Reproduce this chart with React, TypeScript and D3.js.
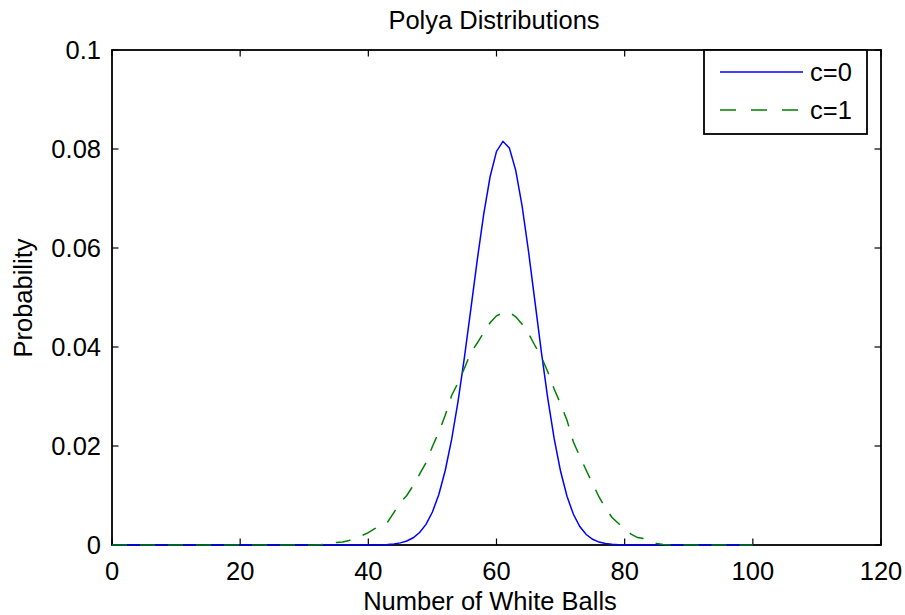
import React from "react";
import * as d3 from "d3";

// Number of white balls = index (0..100)
const seriesNames = ["c=0", "c=1"];

const c0Values = [
  0, 0, 0, 0, 0, 0, 0, 0, 0, 0,
  0, 0, 0, 0, 0, 0, 0, 0, 0, 0,
  0, 0, 0, 0, 0, 0, 0, 0, 0, 0,
  0, 0, 0, 0, 0, 0, 0, 0, 0, 0,
  0.00001, 0.00002, 0.00005, 0.00011, 0.00022, 0.00043, 0.00081, 0.00146, 0.00252, 0.00417,
  0.00666, 0.01021, 0.01505, 0.02132, 0.02902, 0.03797, 0.04772, 0.05762, 0.06681, 0.07439,
  0.07951, 0.08155, 0.08023, 0.07569, 0.06844, 0.05929, 0.04918, 0.03903, 0.02963, 0.02149,
  0.01489, 0.00984, 0.0062, 0.00372, 0.00212, 0.00115, 0.00059, 0.00029, 0.00013, 0.00006,
  0.00002, 0, 0, 0, 0, 0, 0, 0, 0, 0,
  0, 0, 0, 0, 0, 0, 0, 0, 0, 0,
  0,
];

const c1Values = [
  0, 0, 0, 0, 0, 0, 0, 0, 0, 0,
  0, 0, 0, 0, 0, 0, 0, 0, 0, 0,
  0, 0, 0, 0, 0, 0, 0, 0, 0, 0,
  0, 0, 0, 0.0001, 0.0003, 0.0005, 0.0006, 0.0009, 0.0015, 0.0019,
  0.0025, 0.0033, 0.0039, 0.0046, 0.0066, 0.0086, 0.01, 0.012, 0.0143, 0.0166,
  0.0199, 0.0228, 0.0262, 0.0302, 0.0328, 0.0357, 0.0389, 0.0408, 0.0429, 0.0449,
  0.0463, 0.0469, 0.047, 0.0461, 0.0446, 0.0427, 0.0403, 0.038, 0.035, 0.0315,
  0.0285, 0.0252, 0.0208, 0.0179, 0.0151, 0.0124, 0.0097, 0.0075, 0.0056, 0.0044,
  0.0032, 0.0022, 0.0015, 0.0013, 0.0007, 0.0003, 0.0001, 0, 0, 0,
  0, 0, 0, 0, 0, 0, 0, 0, 0, 0,
  0,
];

const xTicks = [0, 20, 40, 60, 80, 100, 120];
const yTicks = [0, 0.02, 0.04, 0.06, 0.08, 0.1];
const yTickLabels = ["0", "0.02", "0.04", "0.06", "0.08", "0.1"];

const W = 905;
const H = 615;
const L = 112;
const R = 881;
const T = 50;
const B = 545;
const FONT = "'Liberation Sans', Arial, Helvetica, sans-serif";
const FS = 25.5;
const TICK = 6.5;

export default function App() {
  const x = d3.scaleLinear().domain([0, 120]).range([L, R]);
  const y = d3.scaleLinear().domain([0, 0.1]).range([B, T]);
  const line = d3
    .line<number>()
    .x((_, i) => x(i))
    .y((v) => y(v));

  return (
    <div style={{ position: "absolute", left: 0, top: 0 }}>
      <svg width={W} height={H} style={{ display: "block", background: "#fff" }}>
        <rect x={0} y={0} width={W} height={H} fill="#fff" />
        {xTicks.map((t) => (
          <g key={"xt" + t}>
            <line x1={x(t)} x2={x(t)} y1={B} y2={B - TICK} stroke="#000" strokeWidth={1.2} />
            <line x1={x(t)} x2={x(t)} y1={T} y2={T + TICK} stroke="#000" strokeWidth={1.2} />
            <text x={x(t)} y={580} textAnchor="middle" fontFamily={FONT} fontSize={FS} fill="#000">
              {t}
            </text>
          </g>
        ))}
        {yTicks.map((t, i) => (
          <g key={"yt" + t}>
            <line x1={L} x2={L + TICK} y1={y(t)} y2={y(t)} stroke="#000" strokeWidth={1.2} />
            <line x1={R} x2={R - TICK} y1={y(t)} y2={y(t)} stroke="#000" strokeWidth={1.2} />
            <text
              x={101}
              y={y(t)}
              dy="0.35em"
              textAnchor="end"
              fontFamily={FONT}
              fontSize={FS}
              fill="#000"
            >
              {yTickLabels[i]}
            </text>
          </g>
        ))}
        <rect x={L} y={T} width={R - L} height={B - T} fill="none" stroke="#000" strokeWidth={1.8} />
        <path d={line(c0Values) || ""} fill="none" stroke="#0000ff" strokeWidth={1.5} />
        <path
          d={line(c1Values) || ""}
          fill="none"
          stroke="#008000"
          strokeWidth={1.5}
          strokeDasharray="15,13"
        />
        <rect x={704} y={T} width={163} height={84} fill="#fff" stroke="#000" strokeWidth={1.8} />
        <line x1={720} x2={803} y1={72} y2={72} stroke="#0000ff" strokeWidth={1.5} />
        <line
          x1={720}
          x2={803}
          y1={110}
          y2={110}
          stroke="#008000"
          strokeWidth={1.5}
          strokeDasharray="16,15"
        />
        <text x={810} y={72} dy="0.35em" fontFamily={FONT} fontSize={FS} fill="#000">
          {seriesNames[0]}
        </text>
        <text x={810} y={110} dy="0.35em" fontFamily={FONT} fontSize={FS} fill="#000">
          {seriesNames[1]}
        </text>
        <text x={494} y={29} textAnchor="middle" fontFamily={FONT} fontSize={FS} fill="#000">
          Polya Distributions
        </text>
        <text x={490} y={610} textAnchor="middle" fontFamily={FONT} fontSize={FS} fill="#000">
          Number of White Balls
        </text>
        <text
          transform="translate(32,298) rotate(-90)"
          textAnchor="middle"
          fontFamily={FONT}
          fontSize={FS}
          fill="#000"
        >
          Probability
        </text>
      </svg>
    </div>
  );
}
